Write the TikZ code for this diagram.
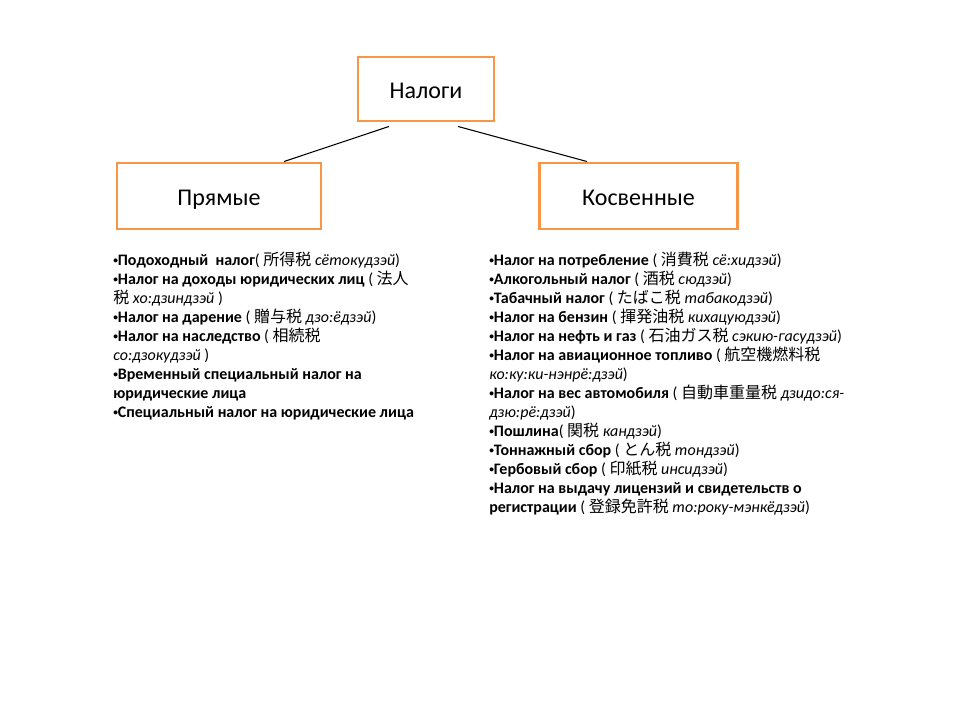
\documentclass[tikz,border=0pt]{standalone}
\usepackage{fontspec}
\setmainfont{Carlito}
\newfontfamily\cjk{Noto Sans CJK JP}
\usetikzlibrary{positioning, calc}
\definecolor{boxorange}{HTML}{F79646}
\newcommand{\jp}[1]{{\cjk #1}}
\newcommand{\tr}[1]{\textit{\mdseries #1}}
\newcommand{\itm}{\raisebox{0.3ex}{\fontsize{7}{7}\selectfont•}}

\begin{document}
\begin{tikzpicture}[
    x=0.75pt, y=-0.75pt,
    taxbox/.style={draw=boxorange, line width=2.2pt, rectangle, fill=white, align=center, text height=15.5pt, text depth=0.5pt, font=\fontsize{18}{21}\selectfont},
    taxlist/.style={anchor=north west, inner sep=0pt, align=left, font=\fontsize{12}{14.25}\selectfont\bfseries},
    link/.style={draw=black, line width=0.8pt}
]
    \useasboundingbox (0,0) rectangle (960,720);

    \node[taxbox, minimum width=102pt, minimum height=48pt] (tax) at (426, 89) {Налоги};
    \node[taxbox, minimum width=153pt, minimum height=49.5pt] (direct) at (219, 196) {Прямые};
    \node[taxbox, minimum width=148pt, minimum height=49.5pt] (indirect) at (638.5, 196) {Косвенные};

    \draw[link] ($(tax.south)+(-37,4)$) -- ($(direct.north)+(65,0)$);
    \draw[link] ($(tax.south)+(32,4)$) -- ($(indirect.north)+(-51.5,0)$);

    \node[taxlist] (directlist) at (113, 252) {%
        \itm Подоходный\ \ налог\mdseries( \jp{所得税} \tr{сётокудзэй})\\
        \itm Налог на доходы юридических лиц \mdseries( \jp{法人}\\
        \mdseries\jp{税} \tr{хо:дзиндзэй} )\\
        \itm Налог на дарение \mdseries( \jp{贈与税} \tr{дзо:ёдзэй})\\
        \itm Налог на наследство \mdseries( \jp{相続税}\\
        \tr{со:дзокудзэй} \mdseries)\\
        \itm Временный специальный налог на\\
        юридические лица\\
        \itm Специальный налог на юридические лица};

    \node[taxlist] (indirectlist) at (489, 252) {%
        \itm Налог на потребление \mdseries( \jp{消費税} \tr{сё:хидзэй})\\
        \itm Алкогольный налог \mdseries( \jp{酒税} \tr{сюдзэй})\\
        \itm Табачный налог \mdseries( \jp{たばこ税} \tr{табакодзэй})\\
        \itm Налог на бензин \mdseries( \jp{揮発油税} \tr{кихацуюдзэй})\\
        \itm Налог на нефть и газ \mdseries( \jp{石油ガス税} \tr{сэкию-гасудзэй})\\
        \itm Налог на авиационное топливо \mdseries( \jp{航空機燃料税}\\
        \tr{ко:ку:ки-нэнрё:дзэй}\mdseries)\\
        \itm Налог на вес автомобиля \mdseries( \jp{自動車重量税} \tr{дзидо:ся-}\\
        \tr{дзю:рё:дзэй}\mdseries)\\
        \itm Пошлина\mdseries( \jp{関税} \tr{кандзэй})\\
        \itm Тоннажный сбор \mdseries( \jp{とん税} \tr{тондзэй})\\
        \itm Гербовый сбор \mdseries( \jp{印紙税} \tr{инсидзэй})\\
        \itm Налог на выдачу лицензий и свидетельств о\\
        регистрации \mdseries( \jp{登録免許税} \tr{то:року-мэнкёдзэй})};
\end{tikzpicture}
\end{document}
